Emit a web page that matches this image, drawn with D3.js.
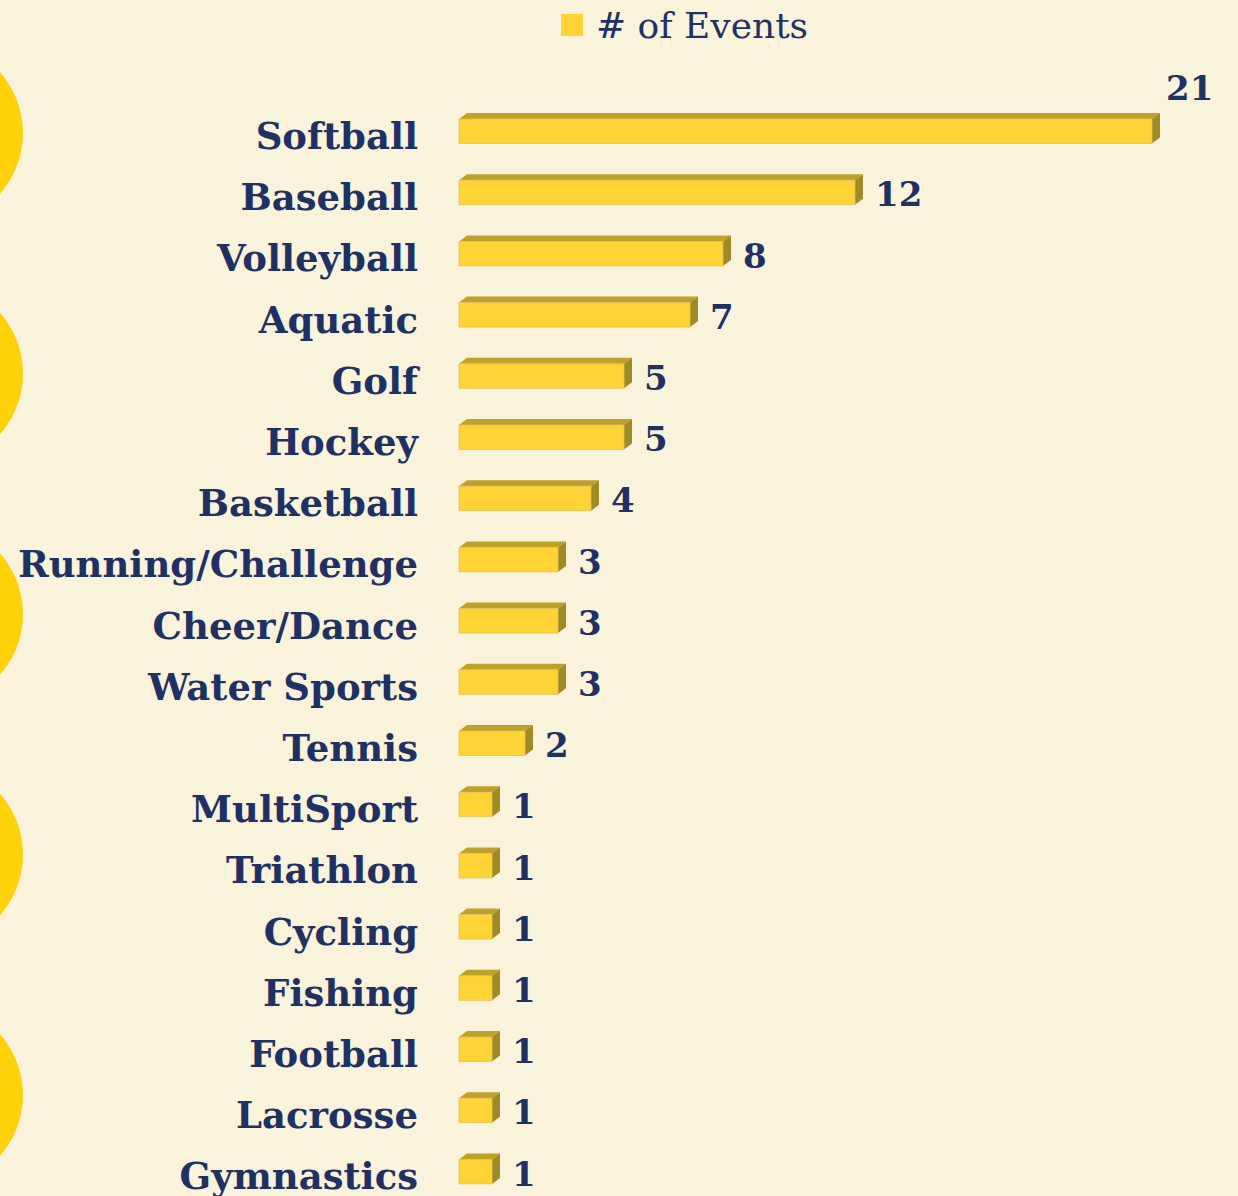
<!DOCTYPE html>
<html>
<head>
<meta charset="utf-8">
<script src="https://cdn.jsdelivr.net/npm/d3@7"></script>
<style>
  html, body { margin: 0; padding: 0; background: #faf3dc; }
  svg { display: block; }
</style>
</head>
<body>
<script>
// data
const categories = [
  "Softball", "Baseball", "Volleyball", "Aquatic", "Golf", "Hockey",
  "Basketball", "Running/Challenge", "Cheer/Dance", "Water Sports", "Tennis",
  "MultiSport", "Triathlon", "Cycling", "Fishing", "Football", "Lacrosse", "Gymnastics"
];
const events = [21, 12, 8, 7, 5, 5, 4, 3, 3, 3, 2, 1, 1, 1, 1, 1, 1, 1];
const seriesName = "# of Events";

const width = 1238,
  height = 1196,
  marginLeft = 459,
  labelRight = 418,
  barHeight = 24.5,
  depthX = 8,
  depthY = 6,
  textColor = "#1f3163",
  frontColor = "#fdd335",
  topColor = "#bfa02b",
  sideColor = "#a08a26",
  fontFamily = "'DejaVu Serif', Georgia, serif";

const xScale = d3.scaleLinear([0, 21], [marginLeft, 1152]);
const yScale = d3.scaleBand(categories, [100.65, 100.65 + 18 * 61.2]).padding(0);

const svg = d3
  .select("body")
  .append("svg")
  .attr("width", width)
  .attr("height", height)
  .attr("viewBox", [0, 0, width, height]);

svg.append("rect").attr("width", width).attr("height", height).attr("fill", "#faf3dc");

// decorative circles on the left edge
svg
  .append("g")
  .selectAll("circle")
  .data(d3.range(5))
  .join("circle")
  .attr("cx", -69)
  .attr("cy", (i) => 133 + i * 240.5)
  .attr("r", 92)
  .attr("fill", "#ffd10a");

// legend
svg
  .append("rect")
  .attr("x", 561)
  .attr("y", 14)
  .attr("width", 22)
  .attr("height", 22)
  .attr("fill", frontColor);
svg
  .append("text")
  .attr("x", 596)
  .attr("y", 38)
  .attr("font-family", fontFamily)
  .attr("font-size", 36)
  .attr("fill", textColor)
  .text(seriesName);

const bandPad = (yScale.bandwidth() - barHeight) / 2;
const bars = svg
  .append("g")
  .selectAll("g")
  .data(d3.range(categories.length))
  .join("g")
  .attr("transform", (i) => `translate(0,${yScale(categories[i]) + bandPad})`);

// top face
bars
  .append("path")
  .attr("fill", topColor)
  .attr("d", (i) => {
    const x0 = xScale(0), x1 = xScale(events[i]);
    return `M${x0},0L${x0 + depthX},${-depthY}L${x1 + depthX},${-depthY}L${x1},0Z`;
  });

// side face
bars
  .append("path")
  .attr("fill", sideColor)
  .attr("d", (i) => {
    const x1 = xScale(events[i]);
    return `M${x1},0L${x1 + depthX},${-depthY}L${x1 + depthX},${barHeight - depthY}L${x1},${barHeight}Z`;
  });

// front face
bars
  .append("rect")
  .attr("x", xScale(0))
  .attr("y", 0)
  .attr("width", (i) => xScale(events[i]) - xScale(0))
  .attr("height", barHeight)
  .attr("fill", frontColor)
  .attr("stroke", "#e2c25a")
  .attr("stroke-width", 0.8);

// value labels (the longest bar's label sits above its end, as in the original)
bars
  .append("text")
  .attr("x", (i) => xScale(events[i]) + depthX + (i === 0 ? 6 : 12))
  .attr("y", (i) => (i === 0 ? -28 : barHeight / 2 + 5))
  .attr("dominant-baseline", "middle")
  .attr("font-family", fontFamily)
  .attr("font-weight", "bold")
  .attr("font-size", 34)
  .attr("fill", textColor)
  .text((i) => events[i]);

// category axis
const yAxis = d3.axisLeft(yScale).tickSize(0).tickPadding(0);
svg
  .append("g")
  .attr("transform", `translate(${labelRight},6)`)
  .call(yAxis)
  .call((g) => g.select(".domain").remove())
  .call((g) =>
    g
      .selectAll(".tick text")
      .attr("font-family", fontFamily)
      .attr("font-weight", "bold")
      .attr("font-size", 37)
      .attr("fill", textColor)
  );
</script>
</body>
</html>
